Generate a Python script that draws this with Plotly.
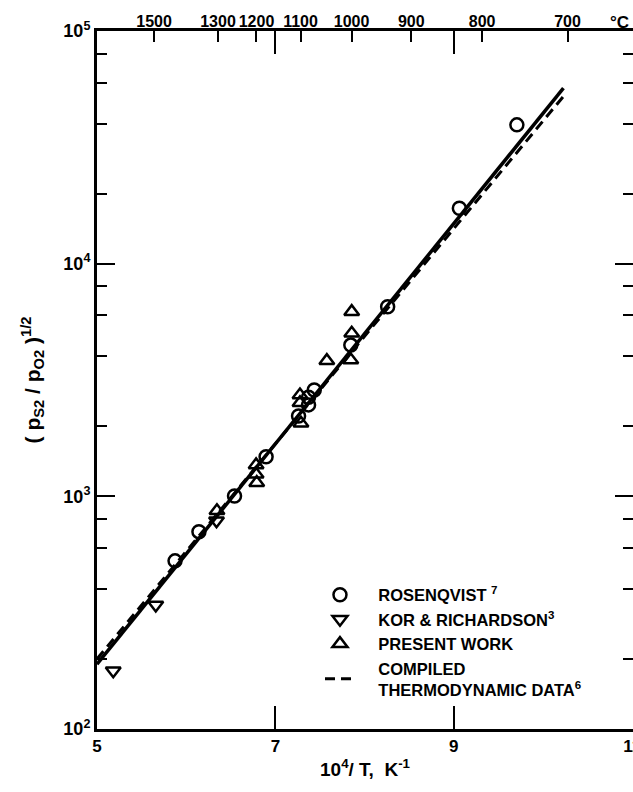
import plotly.graph_objects as go

# ---- data ----
rosen_x = [5.875, 6.143, 6.542, 6.896, 7.260, 7.372, 7.372, 7.436, 7.846, 8.259, 9.063, 9.708]
rosen_y = [528, 705, 1003, 1479, 2213, 2472, 2666, 2864, 4467, 6530, 17300, 39500]

kor_x = [5.182, 5.659, 6.340]
kor_y = [178, 341, 785]

present_x = [6.345, 6.784, 6.784, 6.791, 7.276, 7.276, 7.287, 7.577, 7.856, 7.856, 7.846]
present_y = [867, 1365, 1244, 1145, 2723, 2523, 2060, 3830, 6220, 5020, 3852]

fit_x = [5.0, 10.23]
fit_y = [190, 56800]

compiled_x = [5.0, 10.25]
compiled_y = [200, 53500]

temps_c = [1500, 1300, 1200, 1100, 1000, 900, 800, 700]
bottom_ticks = [5, 7, 9, 11]
bottom_labels = ["5", "7", "9", "11"]
y_major = [100, 1000, 10000, 100000]
y_major_labels = ["10<sup>2</sup>", "10<sup>3</sup>", "10<sup>4</sup>", "10<sup>5</sup>"]
y_minor = [m * d for d in (100, 1000, 10000) for m in (2, 4, 6, 8)]

temp_pos = [1e4 / (t + 273.15) for t in temps_c]

pad = "&nbsp;" * 4

fig = go.Figure()

fig.add_trace(go.Scatter(x=fit_x, y=fit_y, mode="lines",
                         line=dict(color="black", width=3.5), showlegend=False))
fig.add_trace(go.Scatter(x=rosen_x, y=rosen_y, mode="markers", name=pad + "ROSENQVIST <sup>7</sup>",
                         marker=dict(symbol="circle-open", size=13, color="black",
                                     line=dict(width=2.5, color="black"))))
fig.add_trace(go.Scatter(x=kor_x, y=kor_y, mode="markers", name=pad + "KOR &amp; RICHARDSON<sup>3</sup>",
                         marker=dict(symbol="triangle-down-open", size=13, color="black",
                                     line=dict(width=2.5, color="black"))))
fig.add_trace(go.Scatter(x=present_x, y=present_y, mode="markers", name=pad + "PRESENT WORK",
                         marker=dict(symbol="triangle-up-open", size=13, color="black",
                                     line=dict(width=2.5, color="black"))))
fig.add_trace(go.Scatter(x=compiled_x, y=compiled_y, mode="lines",
                         name=pad + "COMPILED<br>" + pad + "THERMODYNAMIC DATA<sup>6</sup>",
                         line=dict(color="black", width=3, dash="10px,6px")))
# invisible trace to activate top axis
fig.add_trace(go.Scatter(x=[5, 11], y=[100, 100], xaxis="x2", mode="markers",
                         marker=dict(opacity=0), showlegend=False, hoverinfo="skip"))

fnt = "Liberation Sans"
def F(size):
    return dict(family=fnt, size=size, color="black", weight="bold")

fig.update_layout(
    width=633, height=792,
    margin=dict(l=97, r=0, t=31, b=63, autoexpand=False),
    plot_bgcolor="white", paper_bgcolor="white",
    font=F(17),
    xaxis=dict(range=[5, 11.01], tickmode="array", tickvals=bottom_ticks, ticktext=bottom_labels,
               tickfont=F(17), automargin=False, tickangle=0, ticklabeloverflow="allow",
               ticks="inside", ticklen=23, tickwidth=2, tickcolor="black",
               showline=True, linewidth=3, linecolor="black", mirror="ticks",
               showgrid=False, zeroline=False,
               title=dict(text="10<sup>4</sup>/ T,  K<sup>-1</sup>", standoff=8, font=F(19))),
    xaxis2=dict(range=[5, 11.01], overlaying="x", side="top", anchor="y", automargin=False,
                tickmode="array", tickvals=temp_pos, ticktext=[str(t) for t in temps_c],
                tickfont=F(16), tickangle=0, ticklabeloverflow="allow",
                ticks="inside", ticklen=11, tickwidth=2, tickcolor="black",
                showline=False, showgrid=False, zeroline=False),
    yaxis=dict(type="log", range=[2, 5], tickmode="array", tickvals=y_major, ticktext=y_major_labels,
               tickfont=F(18), automargin=False,
               ticks="inside", ticklen=18, tickwidth=2, tickcolor="black",
               showline=True, linewidth=3, linecolor="black", mirror="ticks",
               showgrid=False, zeroline=False,
               minor=dict(tickmode="array", tickvals=y_minor, ticks="inside", ticklen=10,
                          tickwidth=2, tickcolor="black", showgrid=False),
               title=dict(text="( p<sub>S2</sub> / p<sub>O2</sub> )<sup>1/2</sup>", standoff=18,
                          font=F(21))),
    legend=dict(x=0.416, y=0.217, xanchor="left", yanchor="top", bgcolor="rgba(0,0,0,0)",
                font=F(16.5), itemwidth=30, tracegroupgap=0),
    annotations=[dict(text="°C", x=0.975, y=1.0, xref="paper", yref="paper",
                      xanchor="center", yanchor="middle", yshift=9, showarrow=False,
                      font=F(17))],
)

fig.write_html("out.html")
